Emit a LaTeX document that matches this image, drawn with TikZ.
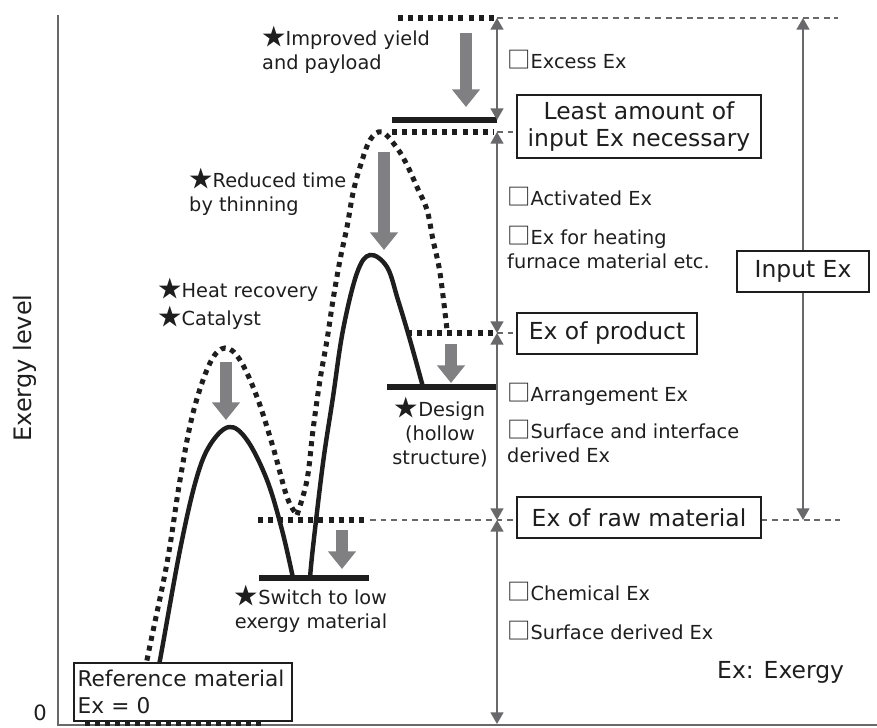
\documentclass[tikz,border=0pt]{standalone}
\usepackage{fontspec}
\setmainfont{DejaVu Sans}
\newfontfamily\symfont{Noto Sans CJK JP}
\newcommand\mstar{{\symfont\fontsize{20}{20}\selectfont ★}}
\newcommand\sqbox{{\symfont\fontsize{20}{20}\selectfont □}}
\usetikzlibrary{arrows.meta,positioning}
\definecolor{arrG}{RGB}{128,128,130}
\definecolor{axG}{RGB}{105,105,108}
\definecolor{inkK}{RGB}{30,30,30}

\begin{document}
\begin{tikzpicture}[
  x=0.03cm, y=-0.03cm,
  lbl/.style={font=\fontsize{16.5}{20.5}\selectfont, align=left, inner sep=0pt, anchor=west, text=inkK},
  note/.style={lbl, align=center, anchor=center},
  tag/.style={draw=inkK, line width=1.2pt, fill=white, font=\fontsize{20}{23}\selectfont, align=center, inner sep=0pt, text=inkK},
  lvl/.style={inkK, line width=5pt},
  dotlvl/.style={inkK, line width=4.3pt, dash pattern=on 4.3pt off 4.3pt},
  solidcurve/.style={inkK, line width=3.8pt},
  dotcurve/.style={inkK, line width=4.3pt, dash pattern=on 4.3pt off 4.3pt},
  guide/.style={axG, line width=0.9pt, dash pattern=on 5pt off 4pt},
  gap/.style={axG, line width=1.7pt, {Triangle[width=11pt,length=10pt]}-{Triangle[width=11pt,length=10pt]}},
  drop/.style={arrG, line width=9.5pt, -{Triangle[width=23pt,length=15pt]}}
]
\useasboundingbox (0,0) rectangle (877,727);

% axes
\draw[axG, line width=2.5pt] (58,15) -- (58,725) -- (877,725);
\node[font=\fontsize{18}{18}\selectfont, text=inkK] (zero) at (40,713) {0};
\node[font=\fontsize{20.5}{20.5}\selectfont, text=inkK, rotate=90] (ylab) at (25,368) {Exergy level};

% level points on the scale
\coordinate (top) at (497,18);
\coordinate (least) at (497,120);
\coordinate (leastd) at (497,132);
\coordinate (prod) at (497,333);
\coordinate (raw) at (497,520);
\coordinate (base) at (497,724);
\coordinate (intop) at (803,18);
\coordinate (inraw) at (803,520);

% paths
\draw[dotcurve] plot[smooth, tension=0.6] coordinates {(136,720) (147,660) (167,563) (180,480) (193,413) (210,363) (225,348) (240,360) (257,397) (273,447) (287,497) (297,515)};
\draw[dotcurve] plot[smooth, tension=0.6] coordinates {(297,515) (307,480) (313,430) (320,380) (327,340) (333,300) (340,260) (347,227) (353,193) (360,167) (370,140) (382,132) (397,148) (407,165) (417,187) (427,210) (433,240) (440,273) (447,330)};
\draw[solidcurve] plot[smooth, tension=0.6] coordinates {(148,722) (160,660) (180,550) (196,480) (210,445) (229,427) (247,440) (267,480) (282,530) (293,578)};
\draw[solidcurve] plot[smooth, tension=0.6] coordinates {(310,578) (313,547) (323,463) (333,397) (343,330) (357,273) (370,255) (387,267) (398,300) (410,340) (423,387)};

% levels
\draw[dotlvl] (398,18) -- (494,18);
\draw[lvl] (392,120) -- (top |- least);
\draw[dotlvl] (392,132) -- (494,132);
\draw[dotlvl] (407,333) -- (494,333);
\draw[lvl] (387,387) -- (497,387);
\draw[dotlvl] (258,520) -- (364,520);
\draw[lvl] (259,578) -- (369,578);

% boxes
\node[tag, minimum width=208pt, minimum height=53.8pt] (leastbox) at (639,126.5) {Least amount of\\input Ex necessary};
\node[tag, minimum width=153.6pt, minimum height=35pt] (prodbox) at (607,333.5) {Ex of product};
\node[tag, minimum width=208pt, minimum height=35pt] (rawbox) at (639,517.5) {Ex of raw material};

% guides
\draw[guide] (top) -- (838,18);
\draw[guide] (leastd) -- (leastbox.west |- leastd);
\draw[guide] (prod) -- (prodbox.west |- prod);
\draw[guide] (370,520) -- (raw) -- (rawbox.west |- raw);
\draw[guide] (rawbox.east |- raw) -- (840,520);

% scale arrows
\draw[gap] (top) -- (least);
\draw[gap] (leastd) -- (prod);
\draw[gap] (prod) -- (raw);
\draw[gap] (raw) -- (base);
\draw[gap] (intop) -- (inraw);
\node[tag, minimum width=112.7pt, minimum height=35pt] (inbox) at (803,271.5) {Input Ex};
\node[tag, font=\fontsize{18.5}{23}\selectfont, minimum width=186pt, minimum height=49.5pt, align=left, text width=180pt] (refbox) at (183,692) {Reference material\\Ex = 0};
\draw[dotlvl] (85,723) -- (264,723);

% reductions
\draw[drop] (466,33) -- (466,107);
\draw[drop] (384,152) -- (384,250);
\draw[drop] (226,362) -- (226,420);
\draw[drop] (342,530) -- (342,569);
\draw[drop] (451,344) -- (451,383);

% measures
\node[lbl] (yield) at (262,50) {\mstar Improved yield\\and payload};
\node[lbl] (thin) at (189,191.5) {\mstar Reduced time\\by thinning};
\node[lbl] (heat) at (158,290) {\mstar Heat recovery};
\node[lbl] (cat) at (158,318) {\mstar Catalyst};
\node[note] (design) at (440,432) {\mstar Design\\(hollow\\structure)};
\node[note] (switch) at (311,608.5) {\mstar Switch to low\\exergy material};

% kinds of exergy
\node[lbl] (excess) at (507,60) {\sqbox Excess Ex};
\node[lbl] (act) at (507,197) {\sqbox Activated Ex};
\node[lbl] (heatEx) at (507,247.5) {\sqbox Ex for heating\\furnace material etc.};
\node[lbl] (arr) at (507,394) {\sqbox Arrangement Ex};
\node[lbl] (surfint) at (507,441.5) {\sqbox Surface and interface\\derived Ex};
\node[lbl] (chem) at (507,592) {\sqbox Chemical Ex};
\node[lbl] (surf) at (507,631) {\sqbox Surface derived Ex};
\node[lbl, font=\fontsize{20}{23}\selectfont] (key) at (717,672) {Ex: Exergy};

\end{tikzpicture}
\end{document}
